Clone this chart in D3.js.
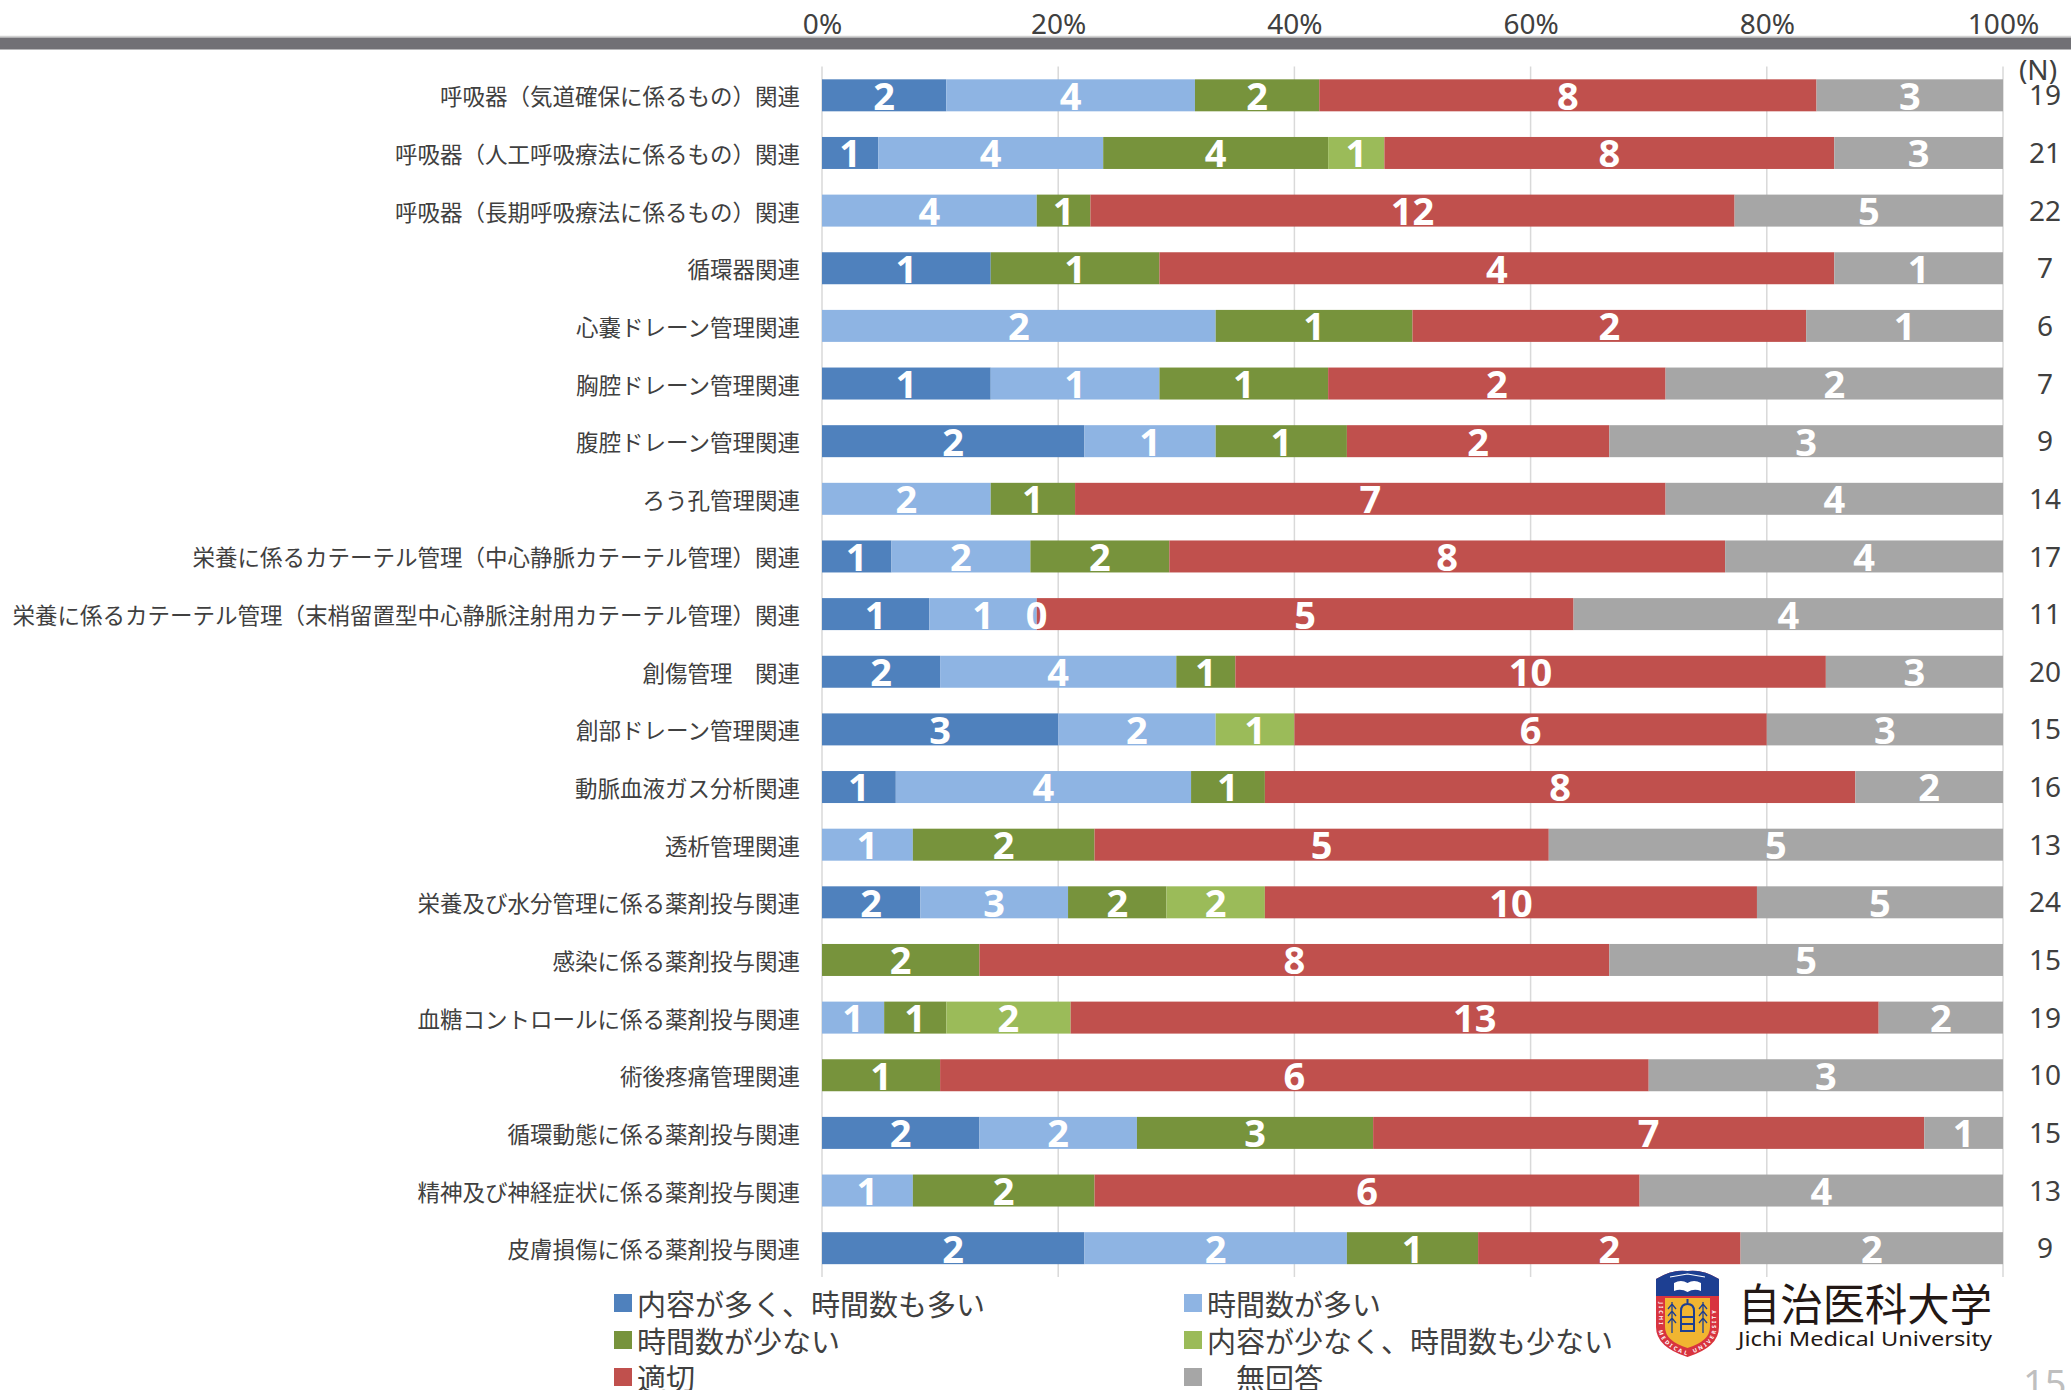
<!DOCTYPE html>
<html>
<head>
<meta charset="utf-8">
<script src="https://cdn.jsdelivr.net/npm/d3@7"></script>
<style>
  body { margin: 0; background: #fff; }
  svg { display: block; }
</style>
</head>
<body>
<svg id="chart" width="2071" height="1390"></svg>
<script>
// categories (top to bottom)
var categories = [
  "呼吸器（気道確保に係るもの）関連",
  "呼吸器（人工呼吸療法に係るもの）関連",
  "呼吸器（長期呼吸療法に係るもの）関連",
  "循環器関連",
  "心嚢ドレーン管理関連",
  "胸腔ドレーン管理関連",
  "腹腔ドレーン管理関連",
  "ろう孔管理関連",
  "栄養に係るカテーテル管理（中心静脈カテーテル管理）関連",
  "栄養に係るカテーテル管理（末梢留置型中心静脈注射用カテーテル管理）関連",
  "創傷管理　関連",
  "創部ドレーン管理関連",
  "動脈血液ガス分析関連",
  "透析管理関連",
  "栄養及び水分管理に係る薬剤投与関連",
  "感染に係る薬剤投与関連",
  "血糖コントロールに係る薬剤投与関連",
  "術後疼痛管理関連",
  "循環動態に係る薬剤投与関連",
  "精神及び神経症状に係る薬剤投与関連",
  "皮膚損傷に係る薬剤投与関連"
];

var seriesNames = ["内容が多く、時間数も多い", "時間数が多い", "時間数が少ない",
                   "内容が少なく、時間数も少ない", "適切", "　無回答"];

// answer counts per category (null = no entry)
var manyContentManyHours = [2, 1, null, 1, null, 1, 2, null, 1, 1, 2, 3, 1, null, 2, null, null, null, 2, null, 2];
var manyHours            = [4, 4, 4, null, 2, 1, 1, 2, 2, 1, 4, 2, 4, 1, 3, null, 1, null, 2, 1, 2];
var fewHours             = [2, 4, 1, 1, 1, 1, 1, 1, 2, 0, 1, null, 1, 2, 2, 2, 1, 1, 3, 2, 1];
var fewContentFewHours   = [null, 1, null, null, null, null, null, null, null, null, null, 1, null, null, 2, null, 2, null, null, null, null];
var appropriate          = [8, 8, 12, 4, 2, 2, 2, 7, 8, 5, 10, 6, 8, 5, 10, 8, 13, 6, 7, 6, 2];
var noAnswer             = [3, 3, 5, 1, 1, 2, 3, 4, 4, 4, 3, 3, 2, 5, 5, 5, 2, 3, 1, 4, 2];

var nValues = [19, 21, 22, 7, 6, 7, 9, 14, 17, 11, 20, 15, 16, 13, 24, 15, 19, 10, 15, 13, 9];

var seriesValues = [manyContentManyHours, manyHours, fewHours, fewContentFewHours, appropriate, noAnswer];
var colors = ["#4f81bd", "#8eb4e3", "#77933c", "#9bbb59", "#c0504d", "#a6a6a6"];

var svg = d3.select("#chart");
var textColor = "#404040";
var latin = "'Noto Sans', 'Liberation Sans', sans-serif";
var cjk = "'Noto Sans CJK JP', 'Noto Sans', sans-serif";

var x = d3.scaleLinear().domain([0, 1]).range([822, 2003]);
var y = d3.scaleBand().domain(categories).range([66.5, 1277])
  .paddingInner(0.445).paddingOuter(0.2225);

// table for d3.stack
var keys = d3.range(seriesValues.length);
var table = categories.map(function(c, i) {
  var row = { cat: c, i: i };
  keys.forEach(function(k) { row[k] = seriesValues[k][i] == null ? 0 : seriesValues[k][i]; });
  return row;
});
var stacked = d3.stack().keys(keys).offset(d3.stackOffsetExpand)(table);

// top grey band
svg.append("line").attr("x1", 0).attr("x2", 2071).attr("y1", 36.5).attr("y2", 36.5)
  .attr("stroke", "#d2d2d2").attr("stroke-width", 1.5);
svg.append("rect").attr("x", 0).attr("y", 37.5).attr("width", 2071).attr("height", 12)
  .attr("fill", "#717075");

// gridlines
svg.append("g").selectAll("line").data(x.ticks(5)).join("line")
  .attr("x1", function(d) { return x(d); }).attr("x2", function(d) { return x(d); })
  .attr("y1", 66.5).attr("y2", 1277)
  .attr("stroke", "#d9d9d9").attr("stroke-width", 1.5);

// top axis
var axis = svg.append("g").attr("transform", "translate(0,34)")
  .call(d3.axisTop(x).ticks(5, ".0%").tickSize(0).tickPadding(0));
axis.select(".domain").remove();
axis.selectAll("text").attr("font-family", latin).attr("font-size", 28).attr("fill", textColor);

// bars
var layers = svg.append("g").selectAll("g").data(stacked).join("g")
  .attr("fill", function(d) { return colors[d.key]; });
layers.selectAll("rect").data(function(d) { return d; }).join("rect")
  .attr("x", function(d) { return x(d[0]); })
  .attr("width", function(d) { return x(d[1]) - x(d[0]); })
  .attr("y", function(d) { return y(d.data.cat); })
  .attr("height", y.bandwidth());

// value labels
var labelData = [];
stacked.forEach(function(layer) {
  layer.forEach(function(d) {
    var v = seriesValues[layer.key][d.data.i];
    if (v != null) labelData.push({ v: v, x0: d[0], x1: d[1], cat: d.data.cat });
  });
});
svg.append("g").selectAll("text").data(labelData).join("text")
  .attr("x", function(d) { return x((d.x0 + d.x1) / 2); })
  .attr("y", function(d) { return y(d.cat) + y.bandwidth() / 2; })
  .attr("dy", "0.38em")
  .attr("text-anchor", "middle")
  .attr("font-family", latin).attr("font-weight", "bold").attr("font-size", 38)
  .attr("fill", "#fff")
  .text(function(d) { return d.v; });

// category labels
svg.append("g").selectAll("text").data(categories).join("text")
  .attr("x", 800)
  .attr("y", function(d) { return y(d) + y.bandwidth() / 2; })
  .attr("dominant-baseline", "central")
  .attr("text-anchor", "end")
  .attr("font-family", cjk).attr("font-size", 22.5).attr("fill", textColor)
  .text(function(d) { return d; });

// N column
svg.append("text").attr("x", 2038).attr("y", 70).attr("dy", "0.36em")
  .attr("text-anchor", "middle").attr("font-family", latin).attr("font-size", 28)
  .attr("fill", textColor).text("(N)");
svg.append("g").selectAll("text").data(nValues).join("text")
  .attr("x", 2045)
  .attr("y", function(d, i) { return y(categories[i]) + y.bandwidth() / 2; })
  .attr("dy", "0.36em")
  .attr("text-anchor", "middle")
  .attr("font-family", latin).attr("font-size", 28).attr("fill", textColor)
  .text(function(d) { return d; });

// legend (2 columns, row-major)
var legendX = [614, 1184];
var legendY = [1303, 1340, 1377];
var legend = svg.append("g").selectAll("g").data(seriesNames).join("g")
  .attr("transform", function(d, i) {
    return "translate(" + legendX[i % 2] + "," + legendY[Math.floor(i / 2)] + ")";
  });
legend.append("rect").attr("x", 0).attr("y", -9).attr("width", 18).attr("height", 18)
  .attr("fill", function(d, i) { return colors[i]; });
legend.append("text").attr("x", 23).attr("y", 0).attr("dominant-baseline", "central")
  .attr("font-family", cjk).attr("font-size", 29).attr("fill", textColor)
  .text(function(d) { return d; });

// university logo
var logo = svg.append("g").attr("transform", "translate(1656,1271)");
var shield = "M0,8 Q16,-2 31.5,0 Q47,-2 63,8 L63,56 Q63,76 31.5,86 Q0,76 0,56 Z";
logo.append("path").attr("d", shield).attr("fill", "#d8343f");
logo.append("path").attr("d", "M0,8 Q16,-2 31.5,0 Q47,-2 63,8 L63,25 L0,25 Z").attr("fill", "#1d3f92");
logo.append("path").attr("d", "M9,27 L54,27 L54,56 Q54,70 31.5,77 Q9,70 9,56 Z").attr("fill", "#f1b531");
logo.append("path").attr("d", "M18,12 Q25,8 31.5,12 L31.5,21 Q25,17 18,20 Z M45,12 Q38,8 31.5,12 L31.5,21 Q38,17 45,20 Z")
  .attr("fill", "#fff");
logo.append("path").attr("d", "M14,6 L31.5,3 L49,6").attr("fill", "none").attr("stroke", "#fff").attr("stroke-width", 1.2);
var emblem = logo.append("g").attr("fill", "none").attr("stroke", "#1d3f92").attr("stroke-width", 2);
emblem.append("path").attr("d", "M25,60 L25,40 Q25,33 31.5,33 Q38,33 38,40 L38,60 Z M25,46 L38,46 M25,53 L38,53 M31.5,28 L31.5,33");
[16, 47].forEach(function(tx) {
  emblem.append("path").attr("stroke-width", 1.3)
    .attr("d", "M" + tx + ",31 L" + tx + ",62 M" + (tx - 4) + ",38 L" + tx + ",33 L" + (tx + 4) + ",38 M" + (tx - 4) + ",45 L" + tx + ",40 L" + (tx + 4) + ",45 M" + (tx - 4) + ",52 L" + tx + ",47 L" + (tx + 4) + ",52");
});
logo.append("path").attr("id", "rim").attr("d", "M4.5,27 L4.5,56 Q4.5,74 31.5,82 Q58.5,74 58.5,56 L58.5,27")
  .attr("fill", "none");
logo.append("text").attr("font-family", latin).attr("font-size", 5.5).attr("font-weight", "bold")
  .attr("fill", "#fff").attr("dy", "2")
  .append("textPath").attr("href", "#rim").attr("startOffset", "3%")
  .attr("textLength", 122).text("JICHI MEDICAL UNIVERSITY");

svg.append("text").attr("x", 1738).attr("y", 1302).attr("dominant-baseline", "central")
  .attr("font-family", cjk).attr("font-size", 44).attr("fill", "#231815")
  .attr("textLength", 254).attr("lengthAdjust", "spacingAndGlyphs").text("自治医科大学");
svg.append("text").attr("x", 1738).attr("y", 1346)
  .attr("font-family", latin).attr("font-size", 19).attr("fill", "#231815")
  .attr("textLength", 254).attr("lengthAdjust", "spacingAndGlyphs").text("Jichi Medical University");

// page number
svg.append("text").attr("x", 2023).attr("y", 1397)
  .attr("font-family", latin).attr("font-size", 38).attr("fill", "#bfbfbf").text("15");
</script>
</body>
</html>
